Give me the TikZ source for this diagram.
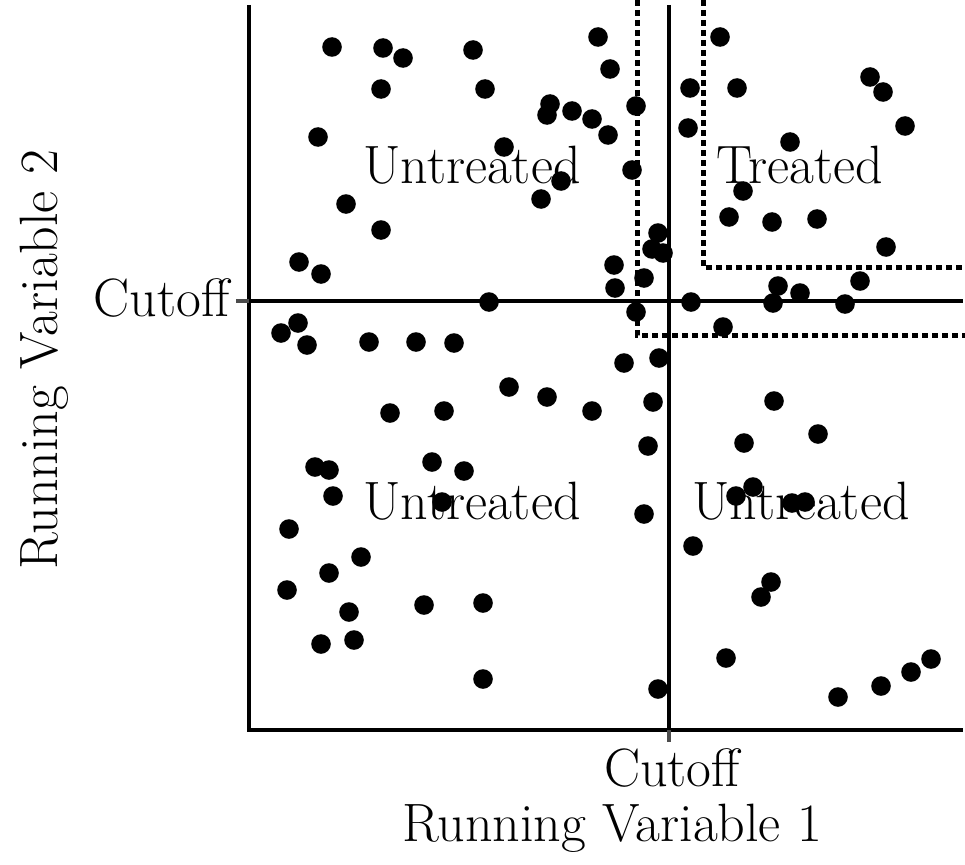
\documentclass[tikz,border=0pt]{standalone}
\begin{document}
\begin{tikzpicture}[x=1pt,y=-1pt,
  axis/.style={line width=4.8pt,black},
  cut/.style={line width=4pt,black},
  tickmark/.style={line width=4pt,black!70},
  region/.style={line width=5pt,black,dash pattern=on 6pt off 4pt},
  lbl/.style={font=\fontsize{54}{64}\selectfont,inner sep=0pt},
  dot/.style={black}]
\useasboundingbox (0,0) rectangle (965,864);
% region boundaries
\draw[region] (703,0) -- (703,267) -- (965,267);
\draw[region] (637,0) -- (637,335) -- (965,335);
% axes
\draw[axis] (249,5) -- (249,730) -- (963,730);
\draw[cut] (669,5) -- (669,730);
\draw[cut] (249,301) -- (963,301);
\draw[tickmark] (669,730) -- (669,742);
\draw[tickmark] (236,301) -- (249,301);
% dots
\foreach \x/\y in {
332/47, 383/48, 403/58, 473/50, 598/37, 610/69, 381/89, 485/89, 550/104, 547/115,
572/111, 592/119, 608/135, 636/106, 318/137, 504/147, 632/170, 561/181, 541/199,
346/204, 381/230, 299/262, 321/274, 658/233, 652/249, 663/253, 614/265, 615/288,
644/278, 489/302, 720/37, 690/88, 737/88, 870/77, 883/92, 905/126, 688/128,
790/142, 743/191, 729/217, 772/222, 817/219, 886/247, 860/281, 778/286, 800/293,
773/303, 845/304, 691/302, 723/327, 636/312, 281/333, 298/323, 307/345, 369/342,
416/342, 454/343, 624/363, 659/358, 509/387, 547/397, 592/411, 653/402, 390/413,
444/411, 648/446, 315/467, 329/470, 432/462, 464/471, 333/496, 442/502, 644/514,
289/529, 361/557, 329/573, 287/590, 424/605, 483/603, 349/612, 321/644, 354/640,
483/679, 658/689, 774/401, 744/443, 818/434, 753/487, 736/496, 792/503, 805/502,
693/546, 771/582, 761/597, 726/658, 838/697, 881/686, 911/672, 931/659}
  \fill[dot] (\x,\y) circle (9.8pt);
% labels
\node[lbl] (ul) at (472,165) {Untreated};
\node[lbl] (ur) at (800,165) {Treated};
\node[lbl] (ll) at (472,501) {Untreated};
\node[lbl] (lr) at (801,501) {Untreated};
\node[lbl,anchor=east] (cy) at (230,298) {Cutoff};
\node[lbl] (cx) at (672,768) {Cutoff};
\node[lbl] (xl) at (612,828) {Running Variable 1};
\node[lbl,rotate=90] (yl) at (44,360) {Running Variable 2};
\end{tikzpicture}
\end{document}
